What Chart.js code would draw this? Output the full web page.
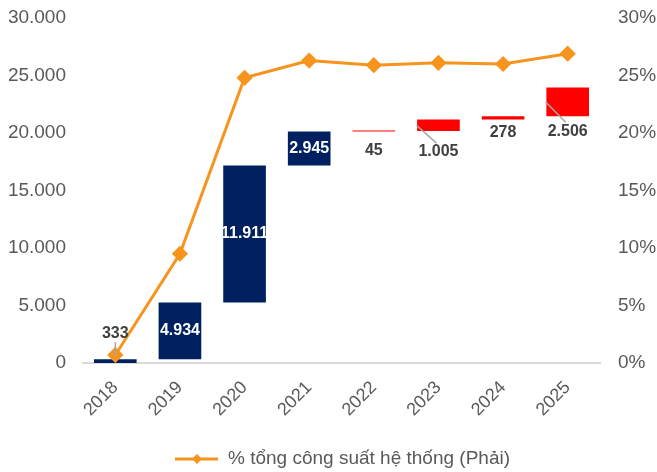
<!DOCTYPE html>
<html>
<head>
<meta charset="utf-8">
<script src="https://cdn.jsdelivr.net/npm/chart.js@4"></script>
<style>
  html, body { margin: 0; padding: 0; background: #fff; }
</style>
</head>
<body>
<canvas id="chart" width="657" height="472"></canvas>
<script>
// dữ liệu
const years = ['2018', '2019', '2020', '2021', '2022', '2023', '2024', '2025'];
const added = [333, 4934, 11911, 2945, 45, 1005, 278, 2506];
const share = [0.7, 9.5, 24.8, 26.3, 25.9, 26.1, 26.0, 26.9];
const leftTicks = [0, 5000, 10000, 15000, 20000, 25000, 30000];
const rightTicks = [0, 5, 10, 15, 20, 25, 30];
const legendText = '% tổng công suất hệ thống (Phải)';

const navy = '#002060';
const red = '#FF0000';
const orange = '#F7941D';
const tickColor = '#595959';
const fontFamily = '"Liberation Sans", Arial, sans-serif';

// vị trí nhãn: inside / above / below, kèm độ lệch
const labelPos = ['above', 'inside', 'inside', 'inside', 'below', 'below', 'below', 'below'];
const labelGap = [26, 0, 0, 0, 19, 21, 13, 15];
const leader = [true, false, false, false, false, true, false, true];

const fmt = n => String(n).replace(/\B(?=(\d{3})+(?!\d))/g, '.');

// cột nổi (waterfall)
let run = 0;
const floating = added.map(v => {
  const seg = [run, run + v];
  run += v;
  return seg;
});

const barLabels = {
  id: 'barLabels',
  afterDatasetsDraw(chart) {
    const ctx = chart.ctx;
    const meta = chart.getDatasetMeta(1);
    ctx.save();
    ctx.font = 'bold 16px ' + fontFamily;
    ctx.textAlign = 'center';
    ctx.textBaseline = 'middle';
    meta.data.forEach((bar, i) => {
      const top = Math.min(bar.y, bar.base);
      const bottom = Math.max(bar.y, bar.base);
      let y;
      if (labelPos[i] === 'inside') {
        ctx.fillStyle = '#ffffff';
        y = (top + bottom) / 2;
      } else if (labelPos[i] === 'above') {
        ctx.fillStyle = '#404040';
        y = top - labelGap[i];
      } else {
        ctx.fillStyle = '#404040';
        y = bottom + labelGap[i];
      }
      ctx.fillText(fmt(added[i]), bar.x, y);
      if (leader[i]) {
        ctx.strokeStyle = '#a6a6a6';
        ctx.lineWidth = 1.5;
        ctx.beginPath();
        if (labelPos[i] === 'above') {
          ctx.moveTo(bar.x, y + 9);
          ctx.lineTo(bar.x, top - 3);
        } else {
          ctx.moveTo(bar.x - 22, (top + bottom) / 2);
          ctx.lineTo(bar.x - 2, y - 9);
        }
        ctx.stroke();
      }
    });
    ctx.restore();
  }
};

const customLegend = {
  id: 'customLegend',
  afterDraw(chart) {
    const ctx = chart.ctx;
    const y = 459;
    ctx.save();
    ctx.strokeStyle = orange;
    ctx.lineWidth = 3;
    ctx.beginPath();
    ctx.moveTo(175, y);
    ctx.lineTo(218, y);
    ctx.stroke();
    ctx.fillStyle = orange;
    ctx.beginPath();
    ctx.moveTo(197, y - 5);
    ctx.lineTo(202, y);
    ctx.lineTo(197, y + 5);
    ctx.lineTo(192, y);
    ctx.closePath();
    ctx.fill();
    ctx.fillStyle = tickColor;
    ctx.font = '19px ' + fontFamily;
    ctx.textAlign = 'left';
    ctx.textBaseline = 'middle';
    ctx.fillText(legendText, 228, y);
    ctx.restore();
  }
};

new Chart(document.getElementById('chart'), {
  data: {
    labels: years,
    datasets: [
      {
        type: 'line',
        label: legendText,
        data: share,
        yAxisID: 'y2',
        borderColor: orange,
        backgroundColor: orange,
        borderWidth: 3,
        pointStyle: 'rectRot',
        pointRadius: 6,
        pointHoverRadius: 6,
        tension: 0,
        order: 0
      },
      {
        type: 'bar',
        label: 'Công suất tăng thêm',
        data: floating,
        yAxisID: 'y',
        backgroundColor: years.map((y, i) => i < 4 ? navy : red),
        borderWidth: 0,
        borderSkipped: false,
        categoryPercentage: 1,
        barPercentage: 0.66,
        minBarLength: 1,
        order: 1
      }
    ]
  },
  options: {
    responsive: false,
    animation: false,
    layout: { padding: { top: 18, bottom: 49, left: 0, right: 0 } },
    plugins: {
      legend: { display: false },
      tooltip: { enabled: false }
    },
    scales: {
      x: {
        grid: { display: false, drawTicks: false },
        border: { display: true, color: '#d9d9d9', width: 2 },
        afterFit(scale) {
          scale.height = 60;
          scale.paddingLeft = 0;
          scale.paddingRight = 0;
        },
        ticks: {
          color: tickColor,
          font: { size: 18, family: fontFamily },
          minRotation: 45,
          maxRotation: 45,
          padding: 14
        }
      },
      y: {
        position: 'left',
        min: 0,
        max: 30000,
        grid: { display: false, drawTicks: false },
        border: { display: false },
        afterFit(scale) {
          scale.width = 83;
          scale.paddingTop = 0;
          scale.paddingBottom = 0;
        },
        afterBuildTicks(scale) { scale.ticks = leftTicks.map(v => ({ value: v })); },
        ticks: {
          color: tickColor,
          font: { size: 19, family: fontFamily },
          padding: 17,
          callback: v => fmt(v)
        }
      },
      y2: {
        position: 'right',
        min: 0,
        max: 30,
        grid: { display: false, drawTicks: false },
        border: { display: false },
        afterFit(scale) {
          scale.width = 57;
          scale.paddingTop = 0;
          scale.paddingBottom = 0;
        },
        afterBuildTicks(scale) { scale.ticks = rightTicks.map(v => ({ value: v })); },
        ticks: {
          color: tickColor,
          font: { size: 19, family: fontFamily },
          padding: 18,
          callback: v => v + '%'
        }
      }
    }
  },
  plugins: [barLabels, customLegend]
});
</script>
</body>
</html>
